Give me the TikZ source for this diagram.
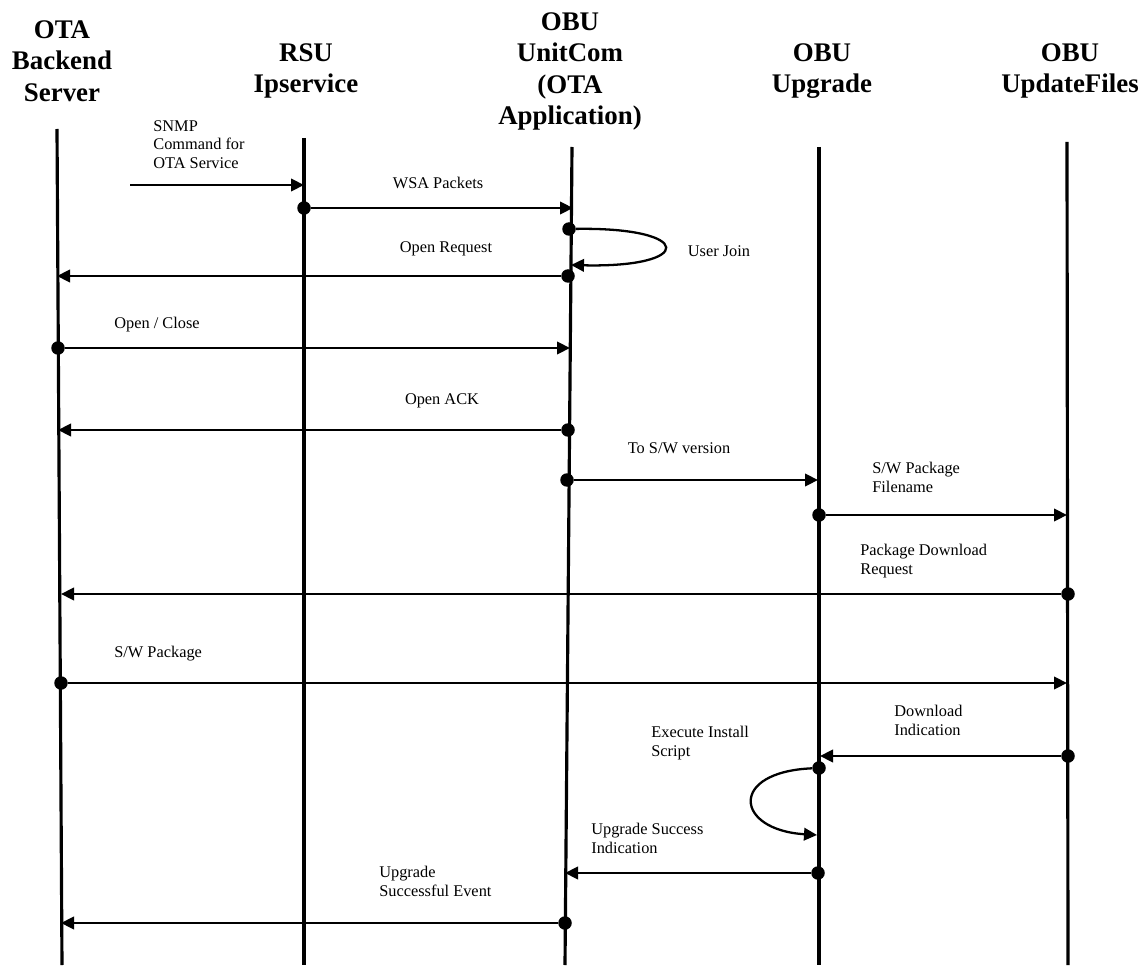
\documentclass[tikz,border=0pt]{standalone}
\usepackage{fontspec}
\setmainfont{Liberation Serif}
\usetikzlibrary{arrows.meta}
\tikzset{
  lifeline/.style={line width=1.8pt},
  msg/.style={line width=1.3pt, -{Triangle[length=2.6mm,width=2.5mm]}},
  dot/.style={circle, fill, inner sep=0pt, minimum size=2.7mm},
  actor/.style={font=\fontsize{15.3}{17.9}\selectfont\bfseries, align=center, anchor=north, inner sep=0pt},
  lbl/.style={font=\fontsize{9.3}{10.5}\selectfont, align=left, inner sep=0pt},
  lblc/.style={lbl, anchor=base},
  lblw/.style={lbl, anchor=north west}
}

\begin{document}
\begin{tikzpicture}[x=0.2mm, y=-0.2mm]
\useasboundingbox (0,0) rectangle (1147,967);
% participants
\node[actor] (ota)   at (62,20)   {OTA\\Backend\\Server};
\node[actor] (rsu)   at (306,43)  {RSU\\Ipservice};
\node[actor] (unit)  at (570,12)  {OBU\\UnitCom\\(OTA\\Application)};
\node[actor] (upg)   at (822,43)  {OBU\\Upgrade};
\node[actor] (files) at (1070,43) {OBU\\UpdateFiles};
% lifelines (top x / top y / bottom x)
\foreach \n/\xt/\yt/\xb in {ota/57/129/62, rsu/304/138/304, unit/572/147/565, upg/819/147/819, files/1067/142/1068} {
  \coordinate (\n-top) at (\xt,\yt);
  \coordinate (\n-bot) at (\xb,965);
  \draw[lifeline] (\n-top) -- (\n-bot);
}
% messages: sender dot -> receiver
\coordinate (snmp) at (130,185);      \coordinate (snmp-end) at (304,185);
\node[dot] (wsa)    at (304,208) {};  \coordinate (wsa-end) at (573,208);
\node[dot] (join)   at (569,229) {};  \coordinate (join-end) at (571,265);
\node[dot] (oreq)   at (568,276) {};  \coordinate (oreq-end) at (57,276);
\node[dot] (oclose) at (58,348) {};   \coordinate (oclose-end) at (570,348);
\node[dot] (oack)   at (568,430) {};  \coordinate (oack-end) at (58,430);
\node[dot] (tosw)   at (567,480) {};  \coordinate (tosw-end) at (818,480);
\node[dot] (fname)  at (819,515) {};  \coordinate (fname-end) at (1067,515);
\node[dot] (dreq)   at (1068,594) {}; \coordinate (dreq-end) at (61,594);
\node[dot] (swpkg)  at (61,683) {};   \coordinate (swpkg-end) at (1067,683);
\node[dot] (dind)   at (1068,756) {}; \coordinate (dind-end) at (820,756);
\node[dot] (exec)   at (819,768) {};  \coordinate (exec-end) at (817,835);
\node[dot] (usucc)  at (818,873) {};  \coordinate (usucc-end) at (565,873);
\node[dot] (uevent) at (565,923) {};  \coordinate (uevent-end) at (61,923);
\foreach \m in {snmp,wsa,oreq,oclose,oack,tosw,fname,dreq,swpkg,dind,usucc,uevent}
  \draw[msg] (\m) -- (\m-end);
% self calls
\draw[msg] (join) .. controls (695,227) and (695,268) .. (join-end);
\draw[msg] (exec) .. controls (728,772) and (735,830) .. (exec-end);
% labels
\node[lblw] (snmp-lbl)   at (153,120) {SNMP\\Command for\\OTA Service};
\node[lblc] (wsa-lbl)    at (438,189) {WSA Packets};
\node[lblc] (join-lbl)   at (719,257) {User Join};
\node[lblc] (oreq-lbl)   at (446,253) {Open Request};
\node[lbl, anchor=base west] (oclose-lbl) at (114,329) {Open / Close};
\node[lblc] (oack-lbl)   at (442,404) {Open ACK};
\node[lblc] (tosw-lbl)   at (679,453) {To S/W version};
\node[lblw] (fname-lbl)  at (872,462) {S/W Package\\Filename};
\node[lblw] (dreq-lbl)   at (860,544) {Package Download\\Request};
\node[lbl, anchor=base west] (swpkg-lbl) at (114,657) {S/W Package};
\node[lblw] (dind-lbl)   at (894,705) {Download\\Indication};
\node[lblw] (exec-lbl)   at (651,726) {Execute Install\\Script};
\node[lblw] (usucc-lbl)  at (591,823) {Upgrade Success\\Indication};
\node[lblw] (uevent-lbl) at (379,866) {Upgrade\\Successful Event};
\end{tikzpicture}
\end{document}
